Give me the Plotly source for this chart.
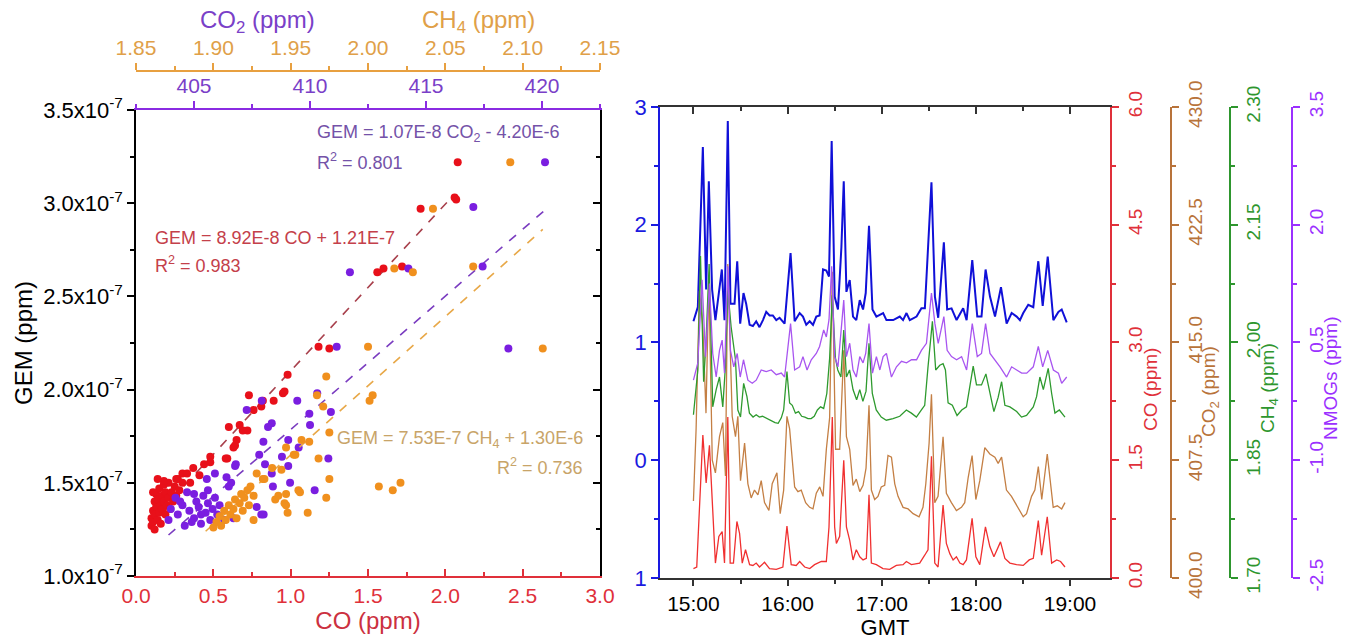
import plotly.graph_objects as go
from datetime import datetime, timedelta

# ---------------- Left panel: scatter data (GEM in units of 1e-7 ppm) ----------------
GEM_UNIT = 1e-7

co_pts = [0.10,0.10,0.11,0.11,0.12,0.12,0.12,0.13,0.13,0.14,0.14,0.15,0.15,0.16,0.16,0.17,0.17,0.18,0.18,0.19,
          0.19,0.20,0.21,0.21,0.22,0.23,0.24,0.25,0.26,0.27,0.28,0.30,0.30,0.33,0.35,0.37,0.18,0.26,0.11,0.14,
          0.41,0.44,0.48,0.48,0.59,0.58,0.63,0.65,0.64,0.60,0.67,0.72,0.69,0.76,0.73,0.81,0.82,0.89,0.95,0.96,
          0.98,1.18,1.25,1.56,1.60,1.72,1.84,2.06,2.07,2.08]
gem_co = [1.27,1.31,1.35,1.29,1.40,1.33,1.25,1.37,1.44,1.30,1.41,1.34,1.47,1.38,1.28,1.43,1.36,1.40,1.49,1.33,
          1.45,1.38,1.42,1.50,1.36,1.45,1.40,1.48,1.43,1.52,1.46,1.50,1.55,1.55,1.50,1.58,1.51,1.52,1.45,1.52,
          1.54,1.60,1.64,1.61,1.63,1.63,1.69,1.73,1.70,1.80,1.81,1.78,1.78,1.89,1.97,1.91,1.94,1.94,1.98,1.99,
          2.08,2.23,2.22,2.63,2.65,2.66,2.97,3.03,3.02,3.22]

co2_pts = [403.9,404.0,404.2,404.3,404.5,404.6,404.7,404.8,405.0,405.1,405.2,405.3,405.4,405.5,405.6,405.7,405.8,
           405.9,406.0,406.1,404.4,405.0,405.6,404.9,405.3,406.3,406.7,406.6,406.5,405.9,405.55,406.4,406.77,406.8,
           407.7,408.0,407.9,408.4,409.14,408.35,409.06,408.06,410.79,408.79,407.81,409.51,409.06,407.99,410.2,
           410.0,408.35,408.19,409.97,410.9,407.27,407.92,409.45,410.31,411.15,418.55,411.72,414.24,417.44,417.04,420.13]
gem_co2 = [1.30,1.36,1.42,1.33,1.38,1.27,1.45,1.35,1.31,1.40,1.37,1.28,1.43,1.34,1.39,1.30,1.36,
           1.42,1.33,1.38,1.40,1.44,1.46,1.29,1.33,1.30,1.31,1.50,1.48,1.55,1.52,1.53,1.59,1.60,
           1.37,1.33,1.33,1.48,1.50,1.55,1.59,1.60,1.63,1.64,1.65,1.69,1.73,1.72,1.46,
           1.81,1.82,1.80,1.87,1.88,1.89,1.94,1.94,1.98,2.23,2.22,2.63,2.65,2.66,2.98,3.22]

ch4_pts = [1.900,1.902,1.904,1.905,1.907,1.908,1.910,1.911,1.913,1.914,1.915,1.917,1.918,1.919,1.920,1.922,1.923,
           1.924,1.926,1.926,1.928,1.932,1.933,1.938,1.940,1.942,1.944,1.946,1.947,1.947,1.948,1.952,1.953,1.955,
           1.956,1.957,1.961,1.962,1.947,1.968,1.971,1.973,1.973,1.975,1.975,2.001,2.003,2.007,2.016,2.021,2.000,
           2.113,2.017,2.029,2.068,2.042,2.092,1.967]
gem_ch4 = [1.26,1.29,1.32,1.27,1.35,1.30,1.38,1.33,1.36,1.41,1.31,1.39,1.44,1.35,1.42,1.46,1.38,
           1.48,1.43,1.30,1.55,1.52,1.52,1.58,1.41,1.43,1.57,1.39,1.44,1.38,1.34,1.65,1.65,1.46,
           1.45,1.73,1.34,1.72,1.69,1.63,1.91,2.07,1.42,1.77,1.52,1.94,1.97,1.48,1.46,1.50,2.23,
           2.22,2.65,2.63,2.66,2.97,3.22,1.97]

# regression line end points
fit_co_x, fit_co_y = [0.15, 2.05], [1.34, 3.04]
fit_co2_x, fit_co2_y = [403.9, 420.1], [1.22, 2.96]
fit_ch4_x, fit_ch4_y = [1.895, 2.113], [1.24, 2.86]

gem_tick_vals = [1.0, 1.5, 2.0, 2.5, 3.0, 3.5]
gem_tick_text = ["1.0x10<sup>-7</sup>", "1.5x10<sup>-7</sup>", "2.0x10<sup>-7</sup>",
                 "2.5x10<sup>-7</sup>", "3.0x10<sup>-7</sup>", "3.5x10<sup>-7</sup>"]

# ---------------- Right panel: time series (minutes after 15:00 GMT) ----------------
t_gem = [0,2.8,6.0,8.1,9.8,11.9,14.0,16.2,18.1,19.8,21.9,23.6,26.2,27.9,29.8,31.9,33.6,35.8,37.9,40.0,
         42.1,44.3,46.4,48.5,50.6,52.8,54.9,58.1,61.9,64.5,67.7,69.8,71.9,74.1,76.2,78.3,80.4,82.6,84.7,86.4,
         88.1,90.0,92.1,94.3,95.8,97.5,99.6,101.7,103.8,106.0,108.1,109.8,111.9,114.1,116.6,120.9,123.0,127.3,
         131.5,133.6,135.8,137.9,142.2,145.3,147.5,151.7,153.9,156.0,159.6,161.7,164.5,167.7,171.9,174.1,177.7,
         180.9,183.6,186.2,189.0,192.2,196.0,199.6,202.8,206.0,208.1,210.2,213.4,216.6,219.8,222.6,225.8,229.4,
         232.6,234.7,237.9]
gem_ts = [1.18,1.30,2.66,1.45,2.37,1.45,1.19,1.45,1.62,1.19,2.88,1.33,1.33,1.69,1.16,1.42,1.33,1.15,1.14,1.18,
          1.13,1.19,1.26,1.23,1.23,1.19,1.21,1.16,1.76,1.18,1.25,1.22,1.15,1.18,1.15,1.22,1.23,1.62,1.61,1.56,
          2.71,1.39,1.28,1.81,2.37,1.43,1.53,1.22,1.19,1.36,1.28,1.42,1.99,1.28,1.22,1.25,1.19,1.19,
          1.22,1.19,1.25,1.19,1.22,1.29,1.29,2.36,1.39,1.21,1.85,1.28,1.29,1.19,1.29,1.19,1.70,
          1.22,1.22,1.62,1.39,1.22,1.47,1.16,1.25,1.22,1.19,1.25,1.32,1.30,1.69,1.31,1.73,1.19,
          1.26,1.28,1.17]

t_co = [0,2.1,6.0,8.1,10.2,12.3,14.0,16.2,18.3,19.8,21.9,23.4,25.5,27.7,29.4,31.1,33.2,35.8,37.9,40.0,
        42.1,45.3,48.5,52.8,57.0,59.6,62.3,65.5,67.7,70.9,74.1,77.2,79.4,81.5,84.7,86.4,88.5,90.0,91.1,93.2,
        95.8,97.5,99.6,101.7,103.8,106.0,108.1,110.2,111.9,113.4,116.6,120.8,125.1,129.3,133.6,135.7,138.9,
        144.2,147.4,149.5,151.7,153.8,155.9,159.1,161.2,163.4,165.5,167.6,169.8,171.9,174.0,177.6,180.0,182.5,
        186.1,188.9,191.5,195.7,198.5,201.7,205.9,210.2,214.0,216.6,219.8,221.9,225.5,228.3,231.5,234.0,236.8]
co_ts = [0.12,0.14,1.82,1.21,1.69,0.95,0.19,0.53,0.59,0.19,2.05,0.19,0.19,0.72,0.57,0.19,0.36,0.17,0.16,0.19,
         0.14,0.20,0.12,0.11,0.14,0.66,0.17,0.16,0.21,0.14,0.12,0.17,0.19,0.21,0.21,0.65,2.05,0.65,0.44,0.53,
         1.50,0.65,0.48,0.23,0.36,0.27,0.23,0.25,1.06,0.19,0.17,0.12,0.11,0.16,0.17,0.21,0.17,
         0.19,0.29,0.36,1.55,0.19,0.14,0.93,0.44,0.31,0.23,0.27,0.19,0.17,0.23,0.76,0.27,0.17,
         0.65,0.40,0.27,0.46,0.25,0.19,0.17,0.16,0.23,0.25,0.73,0.29,0.78,0.19,0.23,0.21,0.14]

t_co2 = [0,1.7,3.8,6.0,8.0,9.8,12.0,14.0,16.6,18.7,20.4,21.9,24.7,26.8,28.3,30.0,32.6,34.7,36.8,38.9,
         41.1,43.2,45.3,48.1,50.2,53.2,55.3,57.5,59.6,61.3,64.5,66.6,68.7,71.5,74.1,76.2,78.3,80.5,82.6,84.7,
         86.8,88.5,90.6,93.2,95.8,97.5,99.6,101.7,103.8,106.0,108.1,110.0,111.9,113.4,115.5,117.6,119.7,121.9,
         124.0,126.2,128.3,130.4,133.6,136.8,140.0,143.8,146.3,148.1,150.2,151.7,153.8,155.9,159.1,161.2,164.4,
         167.6,170.8,172.9,175.1,177.6,180.0,182.5,185.7,188.9,192.1,194.2,196.4,199.5,202.7,207.0,210.2,212.3,
         215.5,217.6,219.8,222.0,225.5,229.3,231.9,234.7,236.8]
co2_ts = [404.9,409.5,418.3,416.0,410.5,419.0,407.5,406.7,409.0,409.9,406.5,420.0,410.3,409.0,410.3,406.2,408.6,
          406.0,405.1,405.6,405.3,406.2,404.8,404.3,406.0,406.7,404.1,405.6,410.3,409.5,405.8,405.5,405.6,404.8,
          404.5,404.4,405.4,405.8,405.2,408.2,410.2,419.5,408.2,408.2,414.5,409.0,408.2,405.9,406.3,405.5,405.9,
          407.0,411.0,405.6,405.0,405.2,405.8,405.9,407.8,407.7,406.0,405.2,404.5,404.4,404.1,403.9,404.5,406.0,
          408.6,411.7,404.8,405.2,409.0,405.4,404.8,404.3,404.5,404.8,406.4,407.8,405.0,406.2,408.3,407.9,407.7,
          407.3,407.7,405.6,405.2,404.4,403.9,404.1,405.2,405.6,407.1,405.0,407.9,404.5,404.6,404.4,404.8]

t_ch4 = [0,2.8,4.5,6.5,8.0,10.0,12.3,14.5,16.6,18.7,20.4,21.9,24.0,26.8,28.3,30.0,32.0,34.1,35.7,38.0,
         40,42,44,46,48,50,52,54,56,57.5,59.6,61.3,63,65,67,69,71,73,75,77,79,81,83,85,86.8,
         88.5,90.5,92,94,95.8,97.5,99.5,101.7,104,106,108,110,111.9,114,116.5,119.7,122.9,127.2,131.5,135.7,
         138.9,142.1,145.3,147.4,149.5,152.3,154.4,157,159.1,160.6,162.3,165,168,171,174,176.1,178.3,180.4,
         183.6,186.4,188.9,191.5,194.2,196.4,198.5,201.7,206,209.1,212.3,216.6,218.7,220.8,223,226.1,228.3,
         230.4,233.2,236.8]
ch4_ts = [1.908,1.965,2.110,1.950,2.000,2.100,1.918,1.940,1.956,1.918,1.970,2.067,2.020,1.978,1.914,1.905,1.948,
          1.931,1.910,1.905,1.908,1.905,1.906,1.904,1.901,1.899,1.898,1.897,1.904,1.914,1.963,1.923,1.920,1.910,
          1.912,1.906,1.905,1.903,1.903,1.906,1.914,1.918,1.916,1.935,1.980,2.060,1.980,1.965,1.956,2.016,1.956,
          1.965,1.940,1.927,1.940,1.925,1.938,1.999,1.935,1.914,1.905,1.901,1.903,1.906,1.914,1.910,1.905,1.914,
          1.920,1.969,2.027,1.965,1.971,1.973,1.965,1.923,1.920,1.907,1.914,1.918,1.945,1.970,1.946,1.946,1.960,
          1.935,1.912,1.930,1.950,1.920,1.918,1.912,1.905,1.907,1.918,1.931,1.956,1.940,1.967,1.935,1.910,1.914,
          1.905]

t_nmog = [0,2.8,5.5,7.7,10.2,12.3,14.5,16.6,18.3,19.8,21.9,23.6,25.7,27.9,29.8,31.9,34.7,37.5,40.0,43.2,
          46.4,49.6,52.8,56.0,58.1,61.9,64.5,67.7,69.8,72.4,75.1,78.3,80.4,83.0,84.7,86.4,88.1,90.0,92.1,95.8,
          97.5,99.6,101.7,103.8,106.0,108.1,109.8,111.9,114.1,116.6,118.8,120.9,123.0,126.2,129.4,132.6,135.8,
          139.0,142.2,145.3,148.5,151.7,153.9,156.0,159.6,161.7,164.5,167.7,170.9,174.1,177.7,180.9,183.6,186.2,
          189.0,192.2,195.4,199.6,202.8,206.0,209.2,212.4,216.6,219.8,222.6,225.8,229.4,232.6,234.7,237.9]
nmog_ts = [0.02,0.24,1.30,0.32,1.25,0.36,0.06,0.40,0.53,0.11,1.47,0.40,0.19,0.36,0.06,0.28,0.02,-0.02,0.02,0.15,
           0.13,0.15,0.09,0.11,0.06,0.74,0.15,0.19,0.32,0.15,0.28,0.36,0.45,0.66,0.57,0.79,1.47,0.32,0.19,1.04,
           0.32,0.49,0.15,0.06,0.32,0.24,0.36,0.74,0.11,0.32,0.15,0.32,0.36,0.06,0.19,0.26,0.24,0.28,0.28,0.40,
           0.49,1.13,0.74,0.49,0.83,0.40,0.32,0.28,0.32,0.15,0.74,0.32,0.36,0.74,0.36,0.28,0.19,0.06,0.19,0.15,
           0.11,0.11,0.19,0.45,0.19,0.40,0.15,0.11,-0.02,0.06]

blue_tick_vals = [-1, 0, 1, 2, 3]
blue_tick_text = ["1", "0", "1", "2", "3"]
co_axis_ticks = [0.0, 1.5, 3.0, 4.5, 6.0]
co2_axis_ticks = [400.0, 407.5, 415.0, 422.5, 430.0]
ch4_axis_ticks = [1.70, 1.85, 2.00, 2.15, 2.30]
nmog_axis_ticks = [-2.5, -1.0, 0.5, 2.0, 3.5]

# ---------------- styling ----------------
FONT = "Arial, Liberation Sans, sans-serif"
TICK_SIZE = 21
RTICK_SIZE = 19
TITLE_SIZE = 24
RTITLE_SIZE = 19
EQ_SIZE = 18

RED_PT, PURPLE_PT, ORANGE_PT = "#e8101a", "#7a1ee0", "#f0901e"
RED_AX, PURPLE_AX, ORANGE_AX = "#e0303a", "#8a2be2", "#e8a040"
BLUE_L, RED_L, BROWN_L, GREEN_L, VIOLET_L = "#1010d8", "#f03030", "#c47f44", "#2e9a2e", "#a855f0"
BLUE_AX, BROWN_AX, GREEN_AX, VIOLET_AX = "#1a1ae0", "#b8733a", "#2e962e", "#9b30ff"

BASE = datetime(2019, 1, 1, 15, 0)


def times(mins):
    return [BASE + timedelta(minutes=m) for m in mins]


def scaled(vals):
    return [v * GEM_UNIT for v in vals]


def fmt(vals, nd):
    return [f"{v:.{nd}f}" for v in vals]


fig = go.Figure()

# fit lines
fig.add_trace(go.Scatter(x=fit_ch4_x, y=scaled(fit_ch4_y), xaxis="x3", yaxis="y", mode="lines",
                         line=dict(color="#e8a848", width=1.6, dash="dash"), hoverinfo="skip"))
fig.add_trace(go.Scatter(x=fit_co2_x, y=scaled(fit_co2_y), xaxis="x2", yaxis="y", mode="lines",
                         line=dict(color="#7a3cc0", width=1.6, dash="dash"), hoverinfo="skip"))
fig.add_trace(go.Scatter(x=fit_co_x, y=scaled(fit_co_y), xaxis="x", yaxis="y", mode="lines",
                         line=dict(color="#a8404c", width=1.6, dash="dash"), hoverinfo="skip"))
# scatter points
fig.add_trace(go.Scatter(x=ch4_pts, y=scaled(gem_ch4), xaxis="x3", yaxis="y", mode="markers",
                         marker=dict(color=ORANGE_PT, size=8), name="CH4"))
fig.add_trace(go.Scatter(x=co2_pts, y=scaled(gem_co2), xaxis="x2", yaxis="y", mode="markers",
                         marker=dict(color=PURPLE_PT, size=8), name="CO2"))
fig.add_trace(go.Scatter(x=co_pts, y=scaled(gem_co), xaxis="x", yaxis="y", mode="markers",
                         marker=dict(color=RED_PT, size=8), name="CO"))
# dummy trace to draw the right-hand frame axis of the left panel
fig.add_trace(go.Scatter(x=[None], y=[None], xaxis="x", yaxis="y2", hoverinfo="skip"))

# time series
fig.add_trace(go.Scatter(x=times(t_co2), y=co2_ts, xaxis="x4", yaxis="y5", mode="lines",
                         line=dict(color=BROWN_L, width=1.3), name="CO2"))
fig.add_trace(go.Scatter(x=times(t_co), y=co_ts, xaxis="x4", yaxis="y4", mode="lines",
                         line=dict(color=RED_L, width=1.3), name="CO"))
fig.add_trace(go.Scatter(x=times(t_ch4), y=ch4_ts, xaxis="x4", yaxis="y6", mode="lines",
                         line=dict(color=GREEN_L, width=1.3), name="CH4"))
fig.add_trace(go.Scatter(x=times(t_nmog), y=nmog_ts, xaxis="x4", yaxis="y7", mode="lines",
                         line=dict(color=VIOLET_L, width=1.3), name="NMOGs"))
fig.add_trace(go.Scatter(x=times(t_gem), y=gem_ts, xaxis="x4", yaxis="y3", mode="lines",
                         line=dict(color=BLUE_L, width=2), name="GEM"))
fig.add_trace(go.Scatter(x=[None], y=[None], xaxis="x5", yaxis="y3", hoverinfo="skip"))

LEFT_X = [0.1004, 0.4428]
LEFT_Y = [0.1014, 0.8284]
RIGHT_X = [0.4871, 0.8192]
RIGHT_Y = [0.0983, 0.8331]
t_range = [BASE - timedelta(minutes=21.3), BASE + timedelta(minutes=265.5)]

common = dict(showgrid=False, zeroline=False, showline=True, linewidth=1.5, automargin=False)


def tf(color, size=TICK_SIZE):
    return dict(color=color, size=size, family=FONT)


def right_axis(rng, ticks, nd, color, minor_dtick, **kw):
    return dict(overlaying="y3", side="right", range=rng, tickmode="array", tickvals=ticks,
                ticktext=fmt(ticks, nd), tickangle=-90, ticks="outside", ticklen=7, tickwidth=1.5,
                tickcolor=color, linecolor=color,
                minor=dict(ticks="outside", dtick=minor_dtick, tick0=rng[0], ticklen=4, tickcolor=color),
                tickfont=tf(color, RTICK_SIZE), **kw, **common)


layout = dict(
    width=1355, height=641, margin=dict(l=0, r=0, t=0, b=0, autoexpand=False),
    paper_bgcolor="white", plot_bgcolor="white", showlegend=False,
    font=dict(family=FONT, size=TICK_SIZE, color="black"),
    xaxis=dict(domain=LEFT_X, anchor="y", range=[0, 3], tick0=0, dtick=0.5, tickformat=".1f",
               ticks="inside", ticklen=7, tickwidth=1.5, tickcolor=RED_AX, linecolor=RED_AX,
               minor=dict(ticks="inside", dtick=0.25, tick0=0, ticklen=4, tickcolor=RED_AX),
               tickfont=tf(RED_AX),
               title=dict(text="CO (ppm)", font=dict(color="#cc3040", size=TITLE_SIZE), standoff=2),
               **common),
    yaxis=dict(domain=LEFT_Y, anchor="x", range=[1.0e-7, 3.5e-7], tickmode="array",
               tickvals=scaled(gem_tick_vals), ticktext=gem_tick_text,
               ticks="outside", ticklen=7, tickwidth=1.5, tickcolor="black", linecolor="black",
               minor=dict(ticks="outside", dtick=0.25e-7, tick0=1e-7, ticklen=4, tickcolor="black"),
               tickfont=tf("black", 22),
               title=dict(text="GEM (ppm)", font=dict(size=TITLE_SIZE), standoff=4),
               **common),
    xaxis2=dict(overlaying="x", side="top", anchor="y", range=[402.5, 422.5], tick0=405, dtick=5,
                ticks="outside", ticklen=7, tickwidth=1.5, tickcolor=PURPLE_AX, linecolor=PURPLE_AX,
                minor=dict(ticks="outside", dtick=2.5, tick0=402.5, ticklen=4, tickcolor=PURPLE_AX),
                tickfont=tf("#7a3fc8"), **common),
    xaxis3=dict(overlaying="x", side="top", anchor="free", position=0.889, range=[1.85, 2.15],
                tick0=1.85, dtick=0.05, tickformat=".2f",
                ticks="outside", ticklen=7, tickwidth=1.5, tickcolor=ORANGE_AX, linecolor=ORANGE_AX,
                minor=dict(ticks="outside", dtick=0.025, tick0=1.85, ticklen=4, tickcolor=ORANGE_AX),
                tickfont=tf("#e0a048"), **common),
    yaxis2=dict(overlaying="y", side="right", anchor="x", range=[1.0e-7, 3.5e-7], tickmode="array",
                tickvals=scaled(gem_tick_vals), showticklabels=False,
                ticks="inside", ticklen=7, tickwidth=1.5, tickcolor="black", linecolor="black",
                minor=dict(ticks="inside", dtick=0.25e-7, tick0=1e-7, ticklen=4, tickcolor="black"),
                **common),
    xaxis4=dict(domain=RIGHT_X, anchor="y3", type="date", range=t_range, tick0=BASE, dtick=3600000,
                tickformat="%H:%M", ticks="outside", ticklen=6, tickwidth=1.5, tickcolor="#333",
                linecolor="#333",
                minor=dict(ticks="outside", dtick=1800000, tick0=BASE, ticklen=4, tickcolor="#333"),
                tickfont=tf("black", 21),
                title=dict(text="GMT", font=dict(size=22), standoff=2), **common),
    xaxis5=dict(overlaying="x4", side="top", anchor="y3", type="date", range=t_range, tick0=BASE,
                dtick=3600000, showticklabels=False, ticks="inside", ticklen=7, tickwidth=1.5,
                tickcolor="#333", linecolor="#333",
                minor=dict(ticks="inside", dtick=1800000, tick0=BASE, ticklen=4, tickcolor="#333"),
                **common),
    yaxis3=dict(domain=RIGHT_Y, anchor="x4", range=[-1, 3], tickmode="array", tickvals=blue_tick_vals,
                ticktext=blue_tick_text, ticks="outside", ticklen=7, tickwidth=1.5, tickcolor=BLUE_AX,
                linecolor=BLUE_AX,
                minor=dict(ticks="outside", dtick=0.5, tick0=-1, ticklen=4, tickcolor=BLUE_AX),
                tickfont=tf(BLUE_AX, 22), **common),
    yaxis4=right_axis([0, 6], co_axis_ticks, 1, RED_AX, 0.75, anchor="x4"),
    yaxis5=right_axis([400, 430], co2_axis_ticks, 1, BROWN_AX, 3.75, anchor="free", position=0.8642),
    yaxis6=right_axis([1.70, 2.30], ch4_axis_ticks, 2, GREEN_AX, 0.075, anchor="free", position=0.9077),
    yaxis7=right_axis([-2.5, 3.5], nmog_axis_ticks, 1, VIOLET_AX, 0.75, anchor="free", position=0.9535),
)
fig.update_layout(**layout)


def ann(text, x, y, color, size=EQ_SIZE, xanchor="left", angle=0):
    fig.add_annotation(text=text, x=x, y=y, xref="paper", yref="paper", showarrow=False,
                       xanchor=xanchor, yanchor="middle", textangle=angle,
                       font=dict(color=color, size=size, family=FONT))


# equations
ann("GEM = 1.07E-8 CO<sub>2</sub> - 4.20E-6", 0.2325, 0.7925, "#7452a8")
ann("R<sup>2</sup> = 0.801", 0.2325, 0.7473, "#7452a8")
ann("GEM = 8.92E-8 CO + 1.21E-7", 0.1129, 0.6287, "#c4404a")
ann("R<sup>2</sup> = 0.983", 0.1129, 0.5866, "#c4404a")
ann("GEM = 7.53E-7 CH<sub>4</sub> + 1.30E-6", 0.4317, 0.3136, "#c8a468", xanchor="right")
ann("R<sup>2</sup> = 0.736", 0.4317, 0.2715, "#c8a468", xanchor="right")

# top axis titles (left panel)
ann("CO<sub>2</sub> (ppm)", 0.1897, 0.9657, "#7a3fc8", size=TITLE_SIZE, xanchor="center")
ann("CH<sub>4</sub> (ppm)", 0.3535, 0.9657, "#e0a048", size=TITLE_SIZE, xanchor="center")

# right-hand axis titles (right panel), placed beside / just below the middle tick labels
ann("CO (ppm)", 1150 / 1355, 1 - 390 / 641, RED_AX, size=RTITLE_SIZE, xanchor="center", angle=-90)
ann("CO<sub>2</sub> (ppm)", 1210 / 1355, 1 - 392 / 641, BROWN_AX, size=RTITLE_SIZE, xanchor="center", angle=-90)
ann("CH<sub>4</sub> (ppm)", 1269 / 1355, 1 - 388 / 641, GREEN_AX, size=RTITLE_SIZE, xanchor="center", angle=-90)
ann("NMOGs (ppm)", 1330 / 1355, 1 - 378 / 641, VIOLET_AX, size=RTITLE_SIZE, xanchor="center", angle=-90)

fig.write_html("out.html", config={"displayModeBar": False},
               post_script="document.body.style.margin='0';document.body.style.overflow='hidden';")
